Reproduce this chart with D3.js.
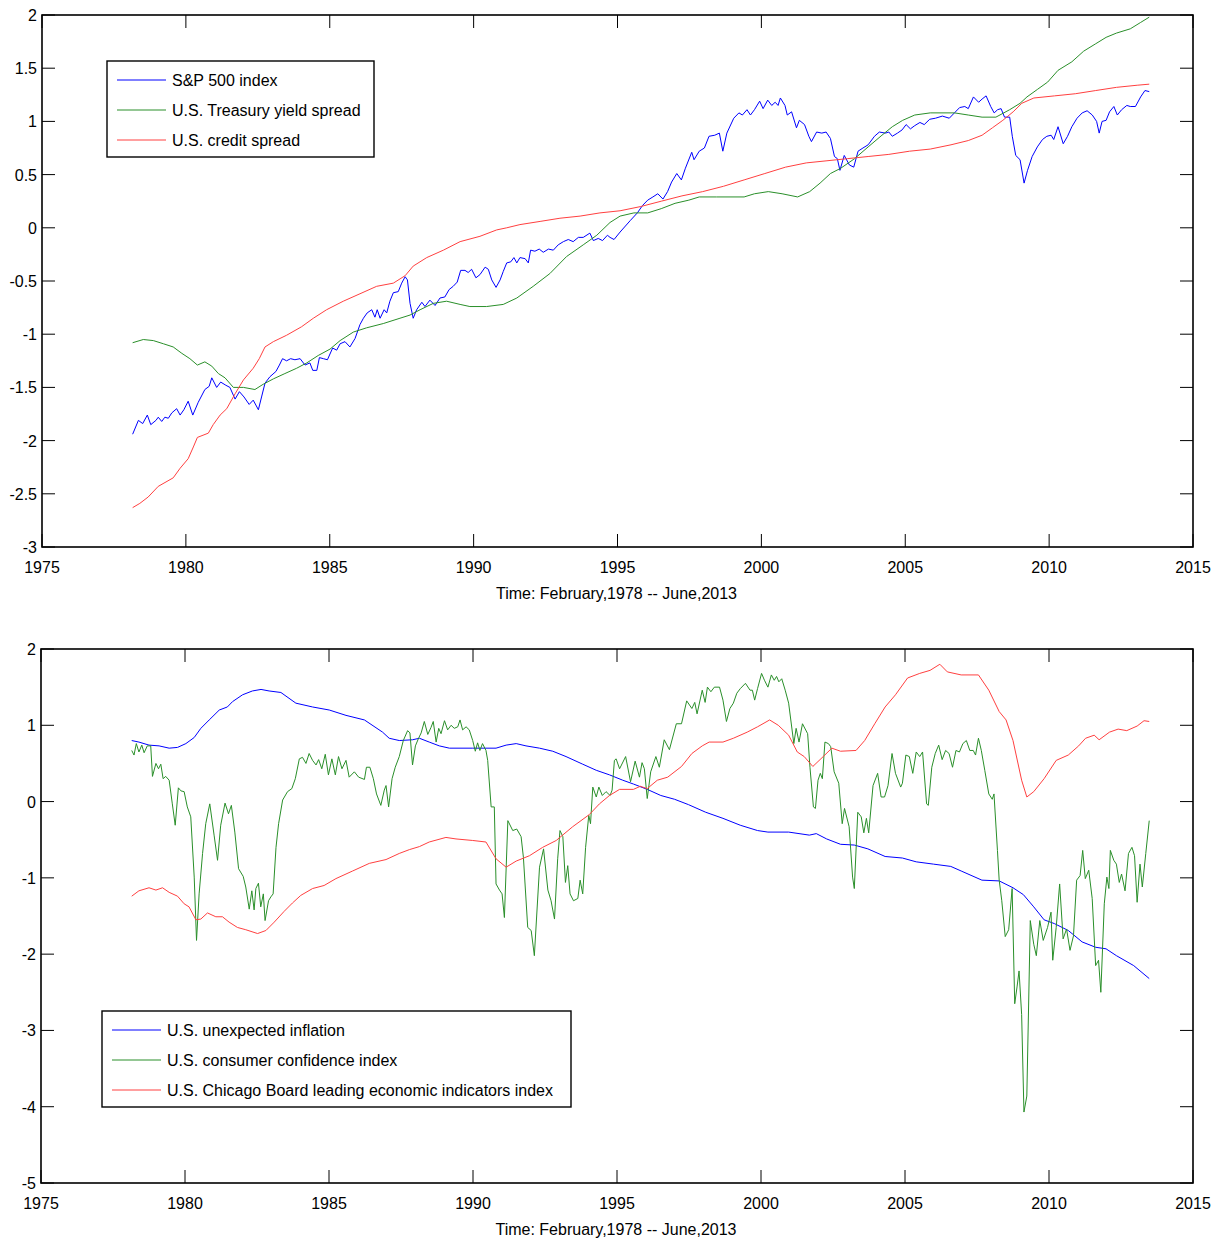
<!DOCTYPE html>
<html>
<head>
<meta charset="utf-8">
<script src="https://cdn.jsdelivr.net/npm/d3@7"></script>
<style>
body { margin: 0; background: #fff; }
text { font-family: "Liberation Sans", Arial, sans-serif; font-size: 16px; fill: #000; }
</style>
</head>
<body>
<svg id="chart" width="1224" height="1243"></svg>
<script>
// years on the x axis, shared by both panels
var xTicks = [1975, 1980, 1985, 1990, 1995, 2000, 2005, 2010, 2015];
var topTicks = [2, 1.5, 1, 0.5, 0, -0.5, -1, -1.5, -2, -2.5, -3];
var botTicks = [2, 1, 0, -1, -2, -3, -4, -5];
var xTitle = "Time: February,1978 -- June,2013";

var topNames = ["S&P 500 index", "U.S. Treasury yield spread", "U.S. credit spread"];
var botNames = ["U.S. unexpected inflation", "U.S. consumer confidence index", "U.S. Chicago Board leading economic indicators index"];

// [year, standardized value]
var spx = [[1978.15,-1.94],[1978.35,-1.81],[1978.5,-1.84],[1978.66,-1.76],[1978.78,-1.85],[1978.96,-1.81],[1979.04,-1.78],[1979.16,-1.82],[1979.27,-1.78],[1979.39,-1.79],[1979.51,-1.74],[1979.68,-1.70],[1979.8,-1.76],[1979.93,-1.71],[1980.08,-1.63],[1980.24,-1.76],[1980.43,-1.64],[1980.66,-1.52],[1980.81,-1.49],[1980.9,-1.41],[1981.07,-1.50],[1981.21,-1.45],[1981.39,-1.48],[1981.53,-1.50],[1981.71,-1.61],[1981.86,-1.54],[1982.02,-1.59],[1982.2,-1.66],[1982.34,-1.62],[1982.52,-1.71],[1982.63,-1.59],[1982.75,-1.46],[1982.92,-1.40],[1983.13,-1.35],[1983.25,-1.29],[1983.36,-1.23],[1983.5,-1.25],[1983.64,-1.23],[1983.79,-1.24],[1983.97,-1.23],[1984.14,-1.29],[1984.31,-1.27],[1984.41,-1.34],[1984.55,-1.34],[1984.64,-1.22],[1984.78,-1.23],[1984.92,-1.24],[1985.1,-1.13],[1985.24,-1.15],[1985.36,-1.09],[1985.53,-1.07],[1985.7,-1.12],[1985.88,-1.04],[1986.05,-0.91],[1986.17,-0.85],[1986.3,-0.80],[1986.46,-0.77],[1986.57,-0.84],[1986.65,-0.77],[1986.75,-0.85],[1986.89,-0.77],[1986.98,-0.80],[1987.09,-0.69],[1987.21,-0.61],[1987.38,-0.60],[1987.5,-0.52],[1987.62,-0.46],[1987.7,-0.49],[1987.79,-0.71],[1987.9,-0.85],[1988.02,-0.77],[1988.2,-0.70],[1988.31,-0.74],[1988.48,-0.68],[1988.66,-0.73],[1988.83,-0.66],[1989.0,-0.65],[1989.15,-0.58],[1989.29,-0.55],[1989.43,-0.51],[1989.55,-0.40],[1989.7,-0.40],[1989.81,-0.42],[1989.93,-0.39],[1990.08,-0.47],[1990.22,-0.44],[1990.4,-0.37],[1990.51,-0.39],[1990.63,-0.49],[1990.78,-0.56],[1990.92,-0.49],[1991.03,-0.41],[1991.15,-0.33],[1991.29,-0.32],[1991.4,-0.28],[1991.5,-0.33],[1991.61,-0.28],[1991.79,-0.29],[1991.9,-0.33],[1991.98,-0.21],[1992.13,-0.22],[1992.28,-0.20],[1992.42,-0.23],[1992.6,-0.20],[1992.77,-0.21],[1992.94,-0.16],[1993.12,-0.13],[1993.29,-0.11],[1993.46,-0.13],[1993.64,-0.09],[1993.81,-0.09],[1994.04,-0.05],[1994.16,-0.12],[1994.33,-0.10],[1994.48,-0.12],[1994.65,-0.07],[1994.74,-0.09],[1994.88,-0.11],[1995.09,-0.04],[1995.45,0.07],[1995.69,0.14],[1995.87,0.21],[1996.05,0.26],[1996.23,0.29],[1996.4,0.32],[1996.58,0.27],[1996.74,0.34],[1996.88,0.43],[1997.06,0.51],[1997.22,0.45],[1997.36,0.56],[1997.58,0.71],[1997.66,0.64],[1997.84,0.72],[1998.02,0.75],[1998.18,0.86],[1998.38,0.87],[1998.54,0.89],[1998.66,0.72],[1998.8,0.89],[1999.04,1.03],[1999.22,1.08],[1999.34,1.06],[1999.5,1.11],[1999.62,1.06],[1999.76,1.11],[1999.94,1.19],[2000.06,1.12],[2000.22,1.20],[2000.36,1.15],[2000.48,1.18],[2000.58,1.15],[2000.66,1.22],[2000.82,1.15],[2000.9,1.06],[2001.05,1.09],[2001.22,0.94],[2001.32,1.01],[2001.5,0.97],[2001.65,0.86],[2001.74,0.81],[2001.92,0.90],[2002.1,0.89],[2002.25,0.90],[2002.4,0.84],[2002.54,0.67],[2002.64,0.65],[2002.73,0.54],[2002.88,0.68],[2003.06,0.59],[2003.21,0.57],[2003.36,0.72],[2003.53,0.75],[2003.71,0.78],[2003.93,0.86],[2004.1,0.90],[2004.31,0.89],[2004.43,0.90],[2004.55,0.86],[2004.73,0.89],[2004.89,0.92],[2005.03,0.97],[2005.18,0.93],[2005.33,0.96],[2005.51,0.99],[2005.66,0.97],[2005.85,1.02],[2006.05,1.03],[2006.29,1.05],[2006.53,1.03],[2006.71,1.08],[2006.89,1.13],[2007.07,1.14],[2007.19,1.12],[2007.37,1.23],[2007.55,1.18],[2007.67,1.21],[2007.81,1.24],[2007.97,1.14],[2008.09,1.08],[2008.21,1.11],[2008.33,1.12],[2008.45,1.04],[2008.63,1.04],[2008.72,0.86],[2008.84,0.68],[2008.99,0.64],[2009.13,0.42],[2009.25,0.54],[2009.41,0.67],[2009.59,0.76],[2009.77,0.83],[2009.92,0.86],[2010.07,0.87],[2010.16,0.83],[2010.31,0.95],[2010.49,0.79],[2010.64,0.86],[2010.79,0.95],[2010.97,1.03],[2011.15,1.08],[2011.32,1.10],[2011.5,1.06],[2011.65,1.00],[2011.74,0.89],[2011.84,1.00],[2011.98,1.01],[2012.1,1.09],[2012.25,1.14],[2012.37,1.06],[2012.52,1.11],[2012.7,1.15],[2012.82,1.14],[2013.0,1.14],[2013.18,1.23],[2013.33,1.29],[2013.48,1.28]];

var yieldSpread = [[1978.15,-1.08],[1978.52,-1.05],[1978.87,-1.06],[1979.22,-1.09],[1979.56,-1.12],[1979.86,-1.18],[1980.14,-1.23],[1980.4,-1.29],[1980.66,-1.26],[1980.9,-1.30],[1981.13,-1.37],[1981.36,-1.41],[1981.65,-1.50],[1982.0,-1.50],[1982.4,-1.52],[1982.69,-1.47],[1983.04,-1.42],[1983.44,-1.37],[1983.85,-1.32],[1984.2,-1.27],[1984.6,-1.20],[1985.01,-1.14],[1985.36,-1.06],[1985.82,-0.98],[1986.28,-0.94],[1986.86,-0.90],[1987.44,-0.85],[1987.79,-0.82],[1988.14,-0.77],[1988.6,-0.71],[1989.06,-0.69],[1989.53,-0.72],[1989.87,-0.74],[1990.45,-0.74],[1991.03,-0.72],[1991.5,-0.66],[1992.07,-0.55],[1992.65,-0.43],[1993.23,-0.27],[1993.81,-0.16],[1994.28,-0.07],[1994.74,0.05],[1995.09,0.11],[1995.57,0.14],[1996.05,0.14],[1996.52,0.18],[1997.0,0.23],[1997.48,0.26],[1997.84,0.29],[1998.44,0.29],[1999.4,0.29],[1999.76,0.32],[2000.24,0.34],[2000.72,0.32],[2001.26,0.29],[2001.68,0.34],[2002.04,0.42],[2002.4,0.51],[2002.76,0.56],[2003.24,0.65],[2003.71,0.76],[2004.19,0.87],[2004.55,0.95],[2004.91,1.01],[2005.33,1.06],[2005.87,1.08],[2006.71,1.08],[2007.19,1.06],[2007.67,1.04],[2008.15,1.04],[2008.63,1.11],[2008.99,1.17],[2009.23,1.23],[2009.59,1.30],[2009.95,1.37],[2010.31,1.48],[2010.79,1.56],[2011.2,1.66],[2011.62,1.73],[2011.98,1.79],[2012.34,1.83],[2012.82,1.87],[2013.18,1.93],[2013.48,1.98]];

var creditSpread = [[1978.15,-2.63],[1978.4,-2.59],[1978.69,-2.53],[1979.04,-2.43],[1979.56,-2.35],[1979.8,-2.26],[1980.08,-2.17],[1980.26,-2.06],[1980.4,-1.97],[1980.78,-1.93],[1980.95,-1.85],[1981.19,-1.76],[1981.42,-1.70],[1981.71,-1.56],[1982.0,-1.43],[1982.34,-1.32],[1982.55,-1.23],[1982.75,-1.12],[1983.04,-1.07],[1983.5,-1.01],[1984.02,-0.93],[1984.43,-0.85],[1984.89,-0.77],[1985.47,-0.69],[1986.05,-0.62],[1986.63,-0.55],[1987.21,-0.52],[1987.62,-0.45],[1987.9,-0.36],[1988.37,-0.28],[1988.95,-0.21],[1989.53,-0.13],[1990.22,-0.08],[1990.8,-0.02],[1991.15,0.0],[1991.61,0.03],[1992.31,0.06],[1993.0,0.09],[1993.7,0.11],[1994.39,0.14],[1995.09,0.16],[1995.81,0.20],[1996.52,0.25],[1997.24,0.30],[1997.96,0.34],[1998.68,0.39],[1999.4,0.45],[2000.12,0.51],[2000.84,0.57],[2001.56,0.61],[2002.28,0.63],[2003.0,0.65],[2003.71,0.67],[2004.43,0.69],[2005.15,0.72],[2005.87,0.74],[2006.59,0.78],[2007.19,0.82],[2007.67,0.87],[2008.03,0.94],[2008.39,1.01],[2008.75,1.09],[2009.05,1.17],[2009.47,1.22],[2010.19,1.24],[2010.91,1.26],[2011.62,1.29],[2012.34,1.32],[2013.06,1.34],[2013.48,1.35]];

var inflation = [[1978.15,0.80],[1978.4,0.78],[1978.75,0.74],[1979.1,0.73],[1979.45,0.70],[1979.74,0.71],[1980.03,0.76],[1980.32,0.84],[1980.55,0.96],[1980.84,1.07],[1981.19,1.20],[1981.47,1.24],[1981.65,1.31],[1982.0,1.40],[1982.34,1.45],[1982.64,1.47],[1982.92,1.45],[1983.33,1.43],[1983.85,1.29],[1984.43,1.24],[1985.01,1.20],[1985.59,1.13],[1986.23,1.07],[1986.86,0.91],[1987.09,0.83],[1987.44,0.80],[1987.9,0.81],[1988.14,0.83],[1988.48,0.78],[1988.83,0.73],[1989.18,0.70],[1989.99,0.70],[1990.8,0.70],[1991.15,0.74],[1991.5,0.76],[1991.84,0.73],[1992.31,0.70],[1992.77,0.66],[1993.23,0.59],[1993.81,0.49],[1994.28,0.41],[1994.74,0.35],[1995.2,0.28],[1995.57,0.23],[1996.05,0.16],[1996.52,0.08],[1997.0,0.03],[1997.48,-0.04],[1998.08,-0.14],[1998.68,-0.22],[1999.28,-0.31],[1999.88,-0.38],[2000.24,-0.40],[2000.96,-0.40],[2001.68,-0.44],[2001.92,-0.42],[2002.28,-0.49],[2002.76,-0.56],[2003.24,-0.57],[2003.71,-0.62],[2004.31,-0.72],[2004.91,-0.74],[2005.39,-0.79],[2005.99,-0.82],[2006.59,-0.85],[2006.95,-0.91],[2007.67,-1.03],[2008.27,-1.04],[2008.75,-1.13],[2009.11,-1.22],[2009.47,-1.38],[2009.83,-1.55],[2010.19,-1.60],[2010.67,-1.69],[2011.15,-1.84],[2011.62,-1.91],[2011.98,-1.93],[2012.34,-2.02],[2012.94,-2.15],[2013.48,-2.32]];

var confidence = [[1978.15,0.67],[1978.23,0.61],[1978.31,0.76],[1978.4,0.65],[1978.5,0.74],[1978.58,0.64],[1978.69,0.73],[1978.81,0.73],[1978.87,0.33],[1978.99,0.50],[1979.08,0.43],[1979.16,0.49],[1979.24,0.30],[1979.33,0.33],[1979.45,0.28],[1979.56,-0.03],[1979.66,-0.31],[1979.77,0.18],[1979.86,0.14],[1979.97,0.13],[1980.08,-0.07],[1980.2,-0.20],[1980.32,-0.99],[1980.4,-1.82],[1980.49,-1.21],[1980.61,-0.68],[1980.72,-0.29],[1980.86,-0.03],[1981.01,-0.44],[1981.13,-0.77],[1981.24,-0.31],[1981.39,-0.02],[1981.51,-0.16],[1981.61,-0.05],[1981.73,-0.40],[1981.86,-0.88],[1982.02,-0.98],[1982.11,-1.12],[1982.23,-1.41],[1982.32,-1.17],[1982.4,-1.42],[1982.46,-1.14],[1982.55,-1.07],[1982.63,-1.38],[1982.72,-1.21],[1982.78,-1.56],[1982.9,-1.30],[1982.98,-1.25],[1983.06,-1.21],[1983.16,-0.60],[1983.25,-0.29],[1983.39,0.02],[1983.56,0.13],[1983.71,0.17],[1983.83,0.30],[1983.97,0.56],[1984.08,0.58],[1984.2,0.50],[1984.31,0.63],[1984.43,0.54],[1984.55,0.48],[1984.64,0.55],[1984.75,0.43],[1984.87,0.62],[1984.98,0.35],[1985.1,0.56],[1985.22,0.35],[1985.33,0.59],[1985.45,0.43],[1985.59,0.54],[1985.7,0.32],[1985.88,0.39],[1986.03,0.32],[1986.23,0.29],[1986.3,0.45],[1986.42,0.45],[1986.54,0.30],[1986.65,0.10],[1986.8,-0.05],[1986.92,0.15],[1986.98,0.21],[1987.07,-0.07],[1987.19,0.30],[1987.3,0.45],[1987.44,0.59],[1987.58,0.80],[1987.73,0.93],[1987.81,0.90],[1987.9,0.48],[1988.0,0.73],[1988.11,0.83],[1988.2,0.90],[1988.31,1.05],[1988.43,0.88],[1988.54,0.97],[1988.62,1.05],[1988.72,0.78],[1988.81,0.96],[1988.89,0.89],[1989.01,1.06],[1989.12,0.94],[1989.24,1.00],[1989.35,0.96],[1989.47,0.98],[1989.55,1.07],[1989.64,0.94],[1989.76,0.98],[1989.87,0.94],[1989.99,0.80],[1990.08,0.66],[1990.16,0.77],[1990.24,0.67],[1990.33,0.76],[1990.45,0.67],[1990.51,0.54],[1990.63,-0.07],[1990.74,-0.07],[1990.8,-1.08],[1990.92,-1.16],[1991.01,-1.21],[1991.09,-1.52],[1991.21,-0.25],[1991.38,-0.38],[1991.52,-0.36],[1991.67,-0.46],[1991.75,-0.73],[1991.9,-1.65],[1992.02,-1.69],[1992.13,-2.02],[1992.31,-0.86],[1992.45,-0.62],[1992.6,-1.16],[1992.71,-1.30],[1992.83,-1.54],[1992.94,-0.75],[1993.02,-0.38],[1993.12,-0.46],[1993.21,-1.06],[1993.29,-0.84],[1993.37,-1.21],[1993.49,-1.30],[1993.64,-1.27],[1993.72,-1.03],[1993.81,-1.21],[1993.91,-0.60],[1994.02,-0.18],[1994.08,-0.29],[1994.16,0.19],[1994.28,0.06],[1994.37,0.19],[1994.49,0.08],[1994.62,0.13],[1994.76,0.08],[1994.83,0.15],[1994.91,0.54],[1994.97,0.56],[1995.09,0.43],[1995.3,0.59],[1995.47,0.26],[1995.63,0.53],[1995.78,0.32],[1995.87,0.51],[1995.95,0.43],[1996.05,0.04],[1996.17,0.39],[1996.35,0.59],[1996.47,0.45],[1996.64,0.81],[1996.82,0.68],[1997.06,1.02],[1997.24,1.02],[1997.42,1.32],[1997.6,1.22],[1997.7,1.30],[1997.78,1.15],[1997.96,1.46],[1998.06,1.30],[1998.14,1.50],[1998.26,1.44],[1998.38,1.50],[1998.56,1.50],[1998.68,1.33],[1998.8,1.05],[1998.92,1.22],[1999.04,1.29],[1999.16,1.42],[1999.28,1.48],[1999.46,1.55],[1999.62,1.46],[1999.7,1.46],[1999.78,1.33],[1999.88,1.48],[2000.02,1.68],[2000.12,1.59],[2000.24,1.50],[2000.36,1.66],[2000.46,1.59],[2000.54,1.64],[2000.62,1.57],[2000.72,1.61],[2000.84,1.46],[2000.96,1.29],[2001.14,0.76],[2001.22,0.96],[2001.32,0.78],[2001.44,1.02],[2001.62,0.89],[2001.7,0.45],[2001.82,-0.07],[2001.89,-0.09],[2001.98,0.28],[2002.06,0.37],[2002.13,0.30],[2002.22,0.78],[2002.34,0.76],[2002.42,0.72],[2002.54,0.39],[2002.7,0.24],[2002.82,-0.29],[2002.9,-0.09],[2003.06,-0.33],[2003.18,-0.99],[2003.24,-1.14],[2003.36,-0.14],[2003.48,-0.20],[2003.57,-0.41],[2003.66,-0.22],[2003.74,-0.41],[2003.89,0.21],[2004.05,0.37],[2004.17,0.06],[2004.29,0.06],[2004.41,0.21],[2004.55,0.63],[2004.67,0.37],[2004.85,0.19],[2004.91,0.24],[2005.03,0.61],[2005.15,0.59],[2005.27,0.37],[2005.39,0.65],[2005.51,0.59],[2005.61,0.65],[2005.75,-0.03],[2005.81,-0.05],[2005.93,0.45],[2006.05,0.63],[2006.17,0.74],[2006.29,0.55],[2006.41,0.67],[2006.53,0.63],[2006.65,0.45],[2006.77,0.67],[2006.89,0.65],[2007.01,0.76],[2007.13,0.80],[2007.25,0.67],[2007.37,0.67],[2007.45,0.61],[2007.55,0.83],[2007.65,0.67],[2007.77,0.41],[2007.91,0.10],[2008.03,0.03],[2008.09,0.10],[2008.21,-0.64],[2008.27,-1.03],[2008.36,-1.30],[2008.48,-1.77],[2008.6,-1.68],[2008.72,-1.14],[2008.81,-2.65],[2008.89,-2.43],[2008.96,-2.22],[2009.05,-2.79],[2009.13,-4.07],[2009.23,-3.86],[2009.35,-1.56],[2009.47,-1.87],[2009.56,-2.02],[2009.68,-1.56],[2009.8,-1.82],[2009.95,-1.65],[2010.07,-1.45],[2010.13,-2.08],[2010.25,-1.65],[2010.37,-1.08],[2010.49,-1.80],[2010.61,-1.67],[2010.73,-1.95],[2010.85,-1.76],[2010.96,-1.03],[2011.08,-0.97],[2011.17,-0.64],[2011.26,-1.01],[2011.38,-0.90],[2011.5,-1.27],[2011.62,-2.15],[2011.72,-2.08],[2011.8,-2.50],[2011.92,-1.34],[2012.01,-0.99],[2012.08,-1.14],[2012.13,-0.64],[2012.25,-0.77],[2012.34,-0.82],[2012.44,-1.06],[2012.52,-0.95],[2012.64,-1.17],[2012.76,-0.68],[2012.88,-0.60],[2012.97,-0.71],[2013.06,-1.32],[2013.16,-0.82],[2013.24,-1.12],[2013.36,-0.68],[2013.48,-0.25]];

var leading = [[1978.15,-1.24],[1978.4,-1.17],[1978.75,-1.13],[1978.99,-1.16],[1979.22,-1.13],[1979.45,-1.19],[1979.74,-1.24],[1979.97,-1.34],[1980.14,-1.38],[1980.38,-1.55],[1980.55,-1.54],[1980.78,-1.46],[1981.07,-1.51],[1981.3,-1.51],[1981.53,-1.58],[1981.82,-1.65],[1982.11,-1.68],[1982.52,-1.73],[1982.81,-1.69],[1983.1,-1.58],[1983.44,-1.44],[1983.73,-1.33],[1984.02,-1.23],[1984.43,-1.14],[1984.83,-1.10],[1985.24,-1.01],[1985.82,-0.91],[1986.4,-0.81],[1986.98,-0.76],[1987.44,-0.68],[1987.79,-0.63],[1988.14,-0.59],[1988.48,-0.53],[1989.06,-0.47],[1989.41,-0.49],[1989.99,-0.51],[1990.45,-0.53],[1990.8,-0.75],[1991.15,-0.86],[1991.5,-0.78],[1991.96,-0.71],[1992.42,-0.60],[1992.89,-0.51],[1993.46,-0.33],[1994.04,-0.17],[1994.39,-0.03],[1994.74,0.08],[1995.09,0.16],[1995.57,0.16],[1995.81,0.20],[1996.05,0.17],[1996.4,0.28],[1996.76,0.32],[1997.24,0.46],[1997.6,0.63],[1997.96,0.73],[1998.2,0.78],[1998.68,0.78],[1999.04,0.83],[1999.52,0.91],[1999.88,0.98],[2000.3,1.07],[2000.6,1.00],[2000.96,0.87],[2001.26,0.65],[2001.5,0.59],[2001.8,0.46],[2002.16,0.59],[2002.46,0.70],[2002.76,0.66],[2003.3,0.67],[2003.6,0.80],[2003.95,1.02],[2004.31,1.24],[2004.67,1.40],[2005.09,1.62],[2005.51,1.68],[2005.87,1.72],[2006.21,1.80],[2006.47,1.70],[2006.95,1.66],[2007.55,1.66],[2007.91,1.46],[2008.27,1.18],[2008.51,1.07],[2008.75,0.80],[2009.05,0.28],[2009.23,0.06],[2009.47,0.13],[2009.83,0.30],[2010.25,0.54],[2010.67,0.61],[2011.03,0.73],[2011.27,0.83],[2011.57,0.87],[2011.74,0.81],[2012.1,0.91],[2012.4,0.95],[2012.7,0.93],[2013.06,0.99],[2013.3,1.06],[2013.48,1.05]];

var colors = ["#0000ff", "#2a8f2a", "#ff4040"];

var svg = d3.select("#chart");

var panels = [
  { left: 42, right: 1193, top: 15, bottom: 547, yDomain: [-3, 2], yTicks: topTicks,
    series: [spx, yieldSpread, creditSpread], names: topNames,
    legend: { x: 107, y: 61, w: 267, h: 96 } },
  { left: 41, right: 1193, top: 649, bottom: 1183, yDomain: [-5, 2], yTicks: botTicks,
    series: [inflation, confidence, leading], names: botNames,
    legend: { x: 102, y: 1011, w: 469, h: 96 } }
];

var tick = 13;

panels.forEach(function (p) {
  var x = d3.scaleLinear().domain([1975, 2015]).range([p.left, p.right]);
  var y = d3.scaleLinear().domain(p.yDomain).range([p.bottom, p.top]);
  var g = svg.append("g");

  var line = d3.line()
    .x(function (d) { return x(d[0]); })
    .y(function (d) { return y(d[1]); });

  p.series.forEach(function (s, i) {
    g.append("path")
      .datum(s)
      .attr("d", line)
      .attr("fill", "none")
      .attr("stroke", colors[i])
      .attr("stroke-width", 1);
  });

  // inward ticks on all four sides, matlab style
  var tk = g.append("g").attr("stroke", "#000").attr("stroke-width", 1);
  tk.selectAll(".xb").data(xTicks).enter().append("line")
    .attr("x1", x).attr("x2", x).attr("y1", p.bottom).attr("y2", p.bottom - tick);
  tk.selectAll(".xt").data(xTicks).enter().append("line")
    .attr("x1", x).attr("x2", x).attr("y1", p.top).attr("y2", p.top + tick);
  tk.selectAll(".yl").data(p.yTicks).enter().append("line")
    .attr("y1", y).attr("y2", y).attr("x1", p.left).attr("x2", p.left + tick);
  tk.selectAll(".yr").data(p.yTicks).enter().append("line")
    .attr("y1", y).attr("y2", y).attr("x1", p.right).attr("x2", p.right - tick);

  g.append("rect")
    .attr("x", p.left).attr("y", p.top)
    .attr("width", p.right - p.left).attr("height", p.bottom - p.top)
    .attr("fill", "none").attr("stroke", "#000").attr("stroke-width", 1.6);

  g.selectAll(".xl").data(xTicks).enter().append("text")
    .attr("x", x).attr("y", p.bottom + 26)
    .attr("text-anchor", "middle")
    .text(function (d) { return d; });

  g.selectAll(".ylab").data(p.yTicks).enter().append("text")
    .attr("x", p.left - 5).attr("y", function (d) { return y(d) + 6; })
    .attr("text-anchor", "end")
    .text(function (d) { return d; });

  g.append("text")
    .attr("x", (p.left + p.right) / 2 - 1).attr("y", p.bottom + 52)
    .attr("text-anchor", "middle")
    .text(xTitle);

  // legend
  var L = p.legend;
  var lg = g.append("g");
  lg.append("rect")
    .attr("x", L.x).attr("y", L.y).attr("width", L.w).attr("height", L.h)
    .attr("fill", "#fff").attr("stroke", "#000").attr("stroke-width", 1.4);
  p.names.forEach(function (name, i) {
    var ry = L.y + 19 + i * 30;
    lg.append("line")
      .attr("x1", L.x + 10).attr("x2", L.x + 59).attr("y1", ry).attr("y2", ry)
      .attr("stroke", colors[i]).attr("stroke-width", 1);
    lg.append("text")
      .attr("x", L.x + 65).attr("y", ry + 6)
      .text(name);
  });
});
</script>
</body>
</html>
